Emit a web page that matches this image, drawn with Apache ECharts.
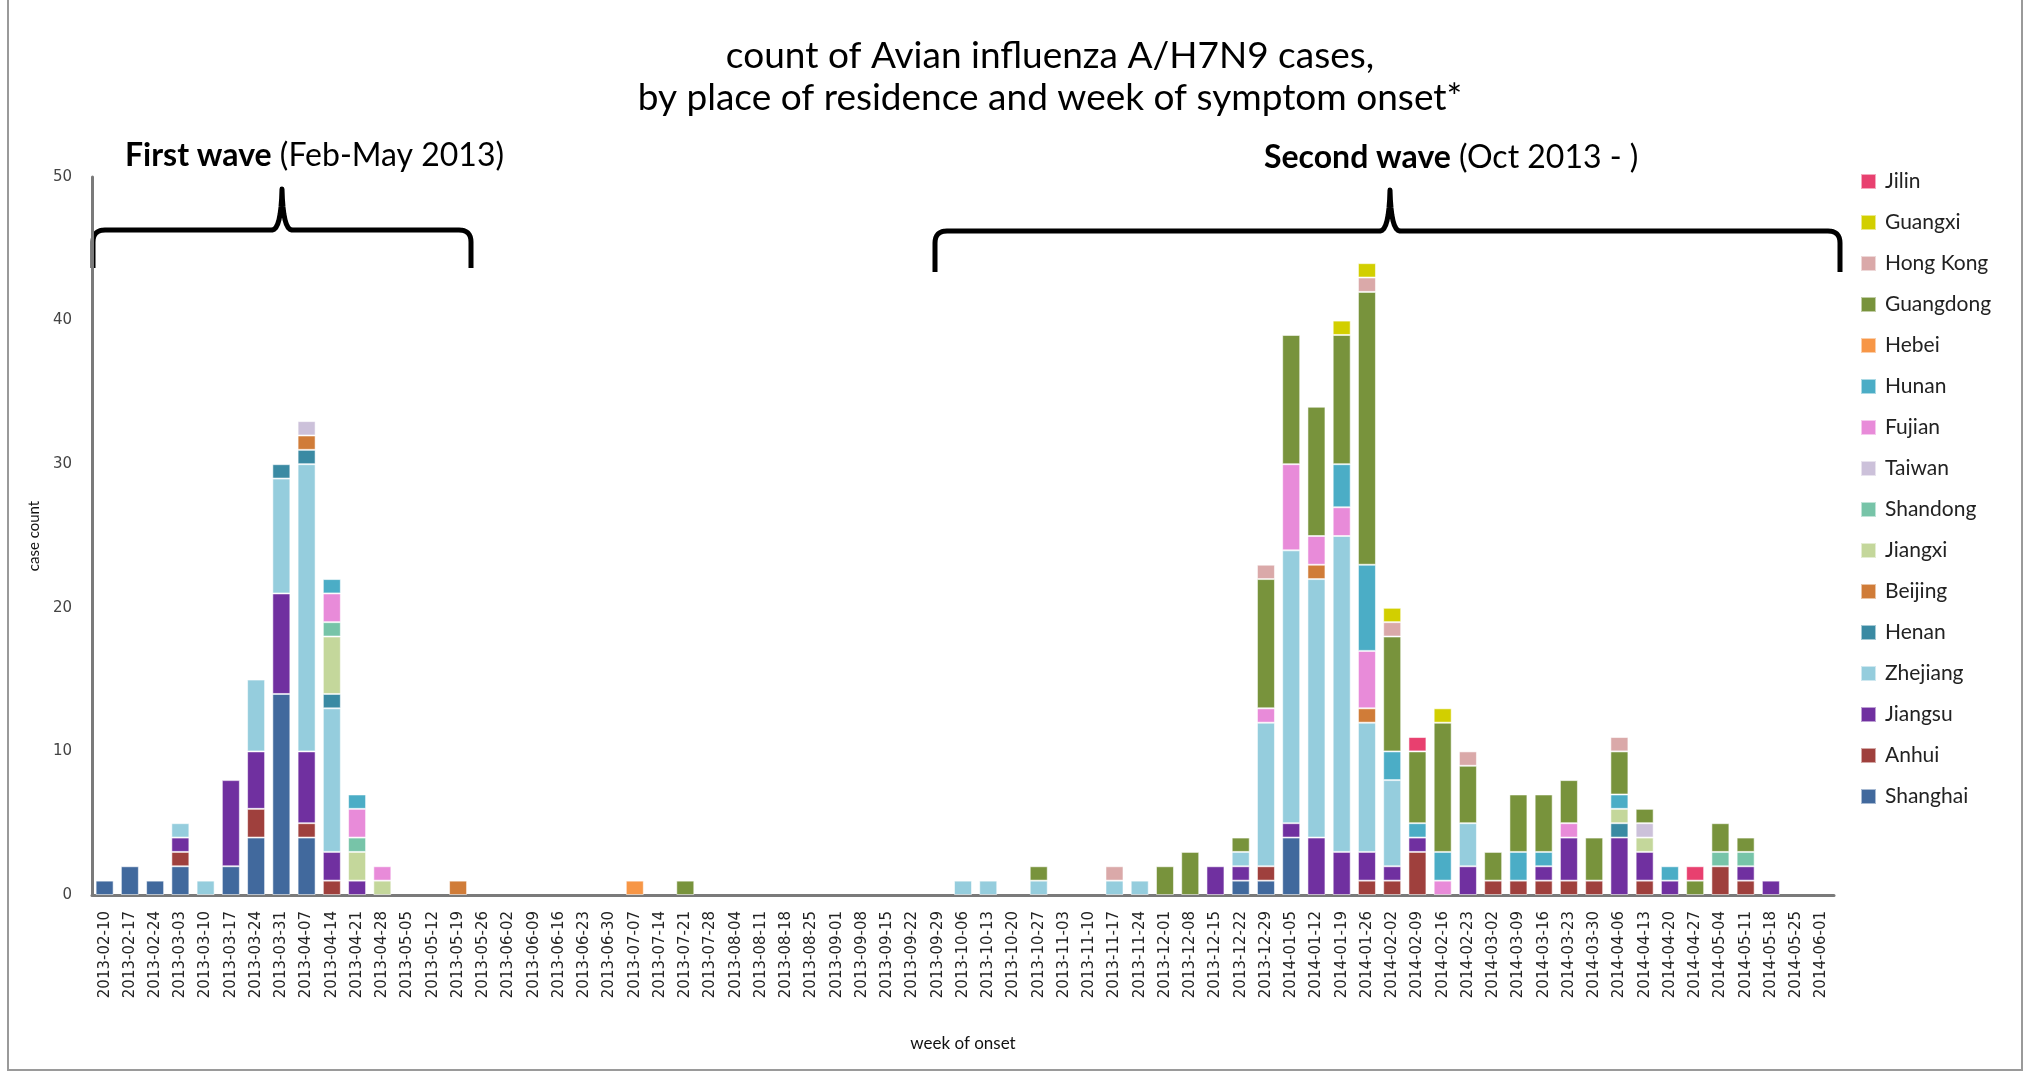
<!DOCTYPE html>
<html>
<head>
<meta charset="utf-8">
<title>Avian influenza A/H7N9 cases</title>
<script src="https://cdn.jsdelivr.net/npm/echarts@6/dist/echarts.min.js"></script>
<style>
  html, body { margin: 0; padding: 0; background: #fff; }
  #main { width: 2028px; height: 1078px; }
</style>
</head>
<body>
<div id="main"></div>
<script>
// week of symptom onset (x axis)
var weeks = [
  '2013-02-10','2013-02-17','2013-02-24','2013-03-03','2013-03-10','2013-03-17','2013-03-24','2013-03-31','2013-04-07','2013-04-14',
  '2013-04-21','2013-04-28','2013-05-05','2013-05-12','2013-05-19','2013-05-26','2013-06-02','2013-06-09','2013-06-16','2013-06-23',
  '2013-06-30','2013-07-07','2013-07-14','2013-07-21','2013-07-28','2013-08-04','2013-08-11','2013-08-18','2013-08-25','2013-09-01',
  '2013-09-08','2013-09-15','2013-09-22','2013-09-29','2013-10-06','2013-10-13','2013-10-20','2013-10-27','2013-11-03','2013-11-10',
  '2013-11-17','2013-11-24','2013-12-01','2013-12-08','2013-12-15','2013-12-22','2013-12-29','2014-01-05','2014-01-12','2014-01-19',
  '2014-01-26','2014-02-02','2014-02-09','2014-02-16','2014-02-23','2014-03-02','2014-03-09','2014-03-16','2014-03-23','2014-03-30',
  '2014-04-06','2014-04-13','2014-04-20','2014-04-27','2014-05-04','2014-05-11','2014-05-18','2014-05-25','2014-06-01'
];

var yTicks = [0, 10, 20, 30, 40, 50];

// case counts per place of residence, one value per week (stack order bottom -> top)
var shanghai = [1,2,1,2,0,2,4,14,4,0, 0,0,0,0,0,0,0,0,0,0, 0,0,0,0,0,0,0,0,0,0, 0,0,0,0,0,0,0,0,0,0, 0,0,0,0,0,1,1,4,0,0, 0,0,0,0,0,0,0,0,0,0, 0,0,0,0,0,0,0,0,0];
var anhui    = [0,0,0,1,0,0,2,0,1,1, 0,0,0,0,0,0,0,0,0,0, 0,0,0,0,0,0,0,0,0,0, 0,0,0,0,0,0,0,0,0,0, 0,0,0,0,0,0,1,0,0,0, 1,1,3,0,0,1,1,1,1,1, 0,1,0,0,2,1,0,0,0];
var jiangsu  = [0,0,0,1,0,6,4,7,5,2, 1,0,0,0,0,0,0,0,0,0, 0,0,0,0,0,0,0,0,0,0, 0,0,0,0,0,0,0,0,0,0, 0,0,0,0,2,1,0,1,4,3, 2,1,1,0,2,0,0,1,3,0, 4,2,1,0,0,1,1,0,0];
var zhejiang = [0,0,0,1,1,0,5,8,20,10, 0,0,0,0,0,0,0,0,0,0, 0,0,0,0,0,0,0,0,0,0, 0,0,0,0,1,1,0,1,0,0, 1,1,0,0,0,1,10,19,18,22, 9,6,0,0,3,0,0,0,0,0, 0,0,0,0,0,0,0,0,0];
var henan    = [0,0,0,0,0,0,0,1,1,1, 0,0,0,0,0,0,0,0,0,0, 0,0,0,0,0,0,0,0,0,0, 0,0,0,0,0,0,0,0,0,0, 0,0,0,0,0,0,0,0,0,0, 0,0,0,0,0,0,0,0,0,0, 1,0,0,0,0,0,0,0,0];
var beijing  = [0,0,0,0,0,0,0,0,1,0, 0,0,0,0,1,0,0,0,0,0, 0,0,0,0,0,0,0,0,0,0, 0,0,0,0,0,0,0,0,0,0, 0,0,0,0,0,0,0,0,1,0, 1,0,0,0,0,0,0,0,0,0, 0,0,0,0,0,0,0,0,0];
var jiangxi  = [0,0,0,0,0,0,0,0,0,4, 2,1,0,0,0,0,0,0,0,0, 0,0,0,0,0,0,0,0,0,0, 0,0,0,0,0,0,0,0,0,0, 0,0,0,0,0,0,0,0,0,0, 0,0,0,0,0,0,0,0,0,0, 1,1,0,0,0,0,0,0,0];
var shandong = [0,0,0,0,0,0,0,0,0,1, 1,0,0,0,0,0,0,0,0,0, 0,0,0,0,0,0,0,0,0,0, 0,0,0,0,0,0,0,0,0,0, 0,0,0,0,0,0,0,0,0,0, 0,0,0,0,0,0,0,0,0,0, 0,0,0,0,1,1,0,0,0];
var taiwan   = [0,0,0,0,0,0,0,0,1,0, 0,0,0,0,0,0,0,0,0,0, 0,0,0,0,0,0,0,0,0,0, 0,0,0,0,0,0,0,0,0,0, 0,0,0,0,0,0,0,0,0,0, 0,0,0,0,0,0,0,0,0,0, 0,1,0,0,0,0,0,0,0];
var fujian   = [0,0,0,0,0,0,0,0,0,2, 2,1,0,0,0,0,0,0,0,0, 0,0,0,0,0,0,0,0,0,0, 0,0,0,0,0,0,0,0,0,0, 0,0,0,0,0,0,1,6,2,2, 4,0,0,1,0,0,0,0,1,0, 0,0,0,0,0,0,0,0,0];
var hunan    = [0,0,0,0,0,0,0,0,0,1, 1,0,0,0,0,0,0,0,0,0, 0,0,0,0,0,0,0,0,0,0, 0,0,0,0,0,0,0,0,0,0, 0,0,0,0,0,0,0,0,0,3, 6,2,1,2,0,0,2,1,0,0, 1,0,1,0,0,0,0,0,0];
var hebei    = [0,0,0,0,0,0,0,0,0,0, 0,0,0,0,0,0,0,0,0,0, 0,1,0,0,0,0,0,0,0,0, 0,0,0,0,0,0,0,0,0,0, 0,0,0,0,0,0,0,0,0,0, 0,0,0,0,0,0,0,0,0,0, 0,0,0,0,0,0,0,0,0];
var guangdong= [0,0,0,0,0,0,0,0,0,0, 0,0,0,0,0,0,0,0,0,0, 0,0,0,1,0,0,0,0,0,0, 0,0,0,0,0,0,0,1,0,0, 0,0,2,3,0,1,9,9,9,9, 19,8,5,9,4,2,4,4,3,3, 3,1,0,1,2,1,0,0,0];
var hongkong = [0,0,0,0,0,0,0,0,0,0, 0,0,0,0,0,0,0,0,0,0, 0,0,0,0,0,0,0,0,0,0, 0,0,0,0,0,0,0,0,0,0, 1,0,0,0,0,0,1,0,0,0, 1,1,0,0,1,0,0,0,0,0, 1,0,0,0,0,0,0,0,0];
var guangxi  = [0,0,0,0,0,0,0,0,0,0, 0,0,0,0,0,0,0,0,0,0, 0,0,0,0,0,0,0,0,0,0, 0,0,0,0,0,0,0,0,0,0, 0,0,0,0,0,0,0,0,0,1, 1,1,0,1,0,0,0,0,0,0, 0,0,0,0,0,0,0,0,0];
var jilin    = [0,0,0,0,0,0,0,0,0,0, 0,0,0,0,0,0,0,0,0,0, 0,0,0,0,0,0,0,0,0,0, 0,0,0,0,0,0,0,0,0,0, 0,0,0,0,0,0,0,0,0,0, 0,0,1,0,0,0,0,0,0,0, 0,0,0,1,0,0,0,0,0];

var places = ['Shanghai','Anhui','Jiangsu','Zhejiang','Henan','Beijing','Jiangxi','Shandong','Taiwan','Fujian','Hunan','Hebei','Guangdong','Hong Kong','Guangxi','Jilin'];
var placeData = [shanghai, anhui, jiangsu, zhejiang, henan, beijing, jiangxi, shandong, taiwan, fujian, hunan, hebei, guangdong, hongkong, guangxi, jilin];
var placeColors = ['#41699d','#9f403d','#7030a0','#95cddd','#3a8aa3','#d07c38','#c4d79b','#77c4a8','#ccc1da','#e88bd9','#4badc6','#f79646','#78933c','#daa9a9','#d2cf00','#e8406f'];

var series = [];
for (var i = 0; i < places.length; i++) {
  series.push({
    name: places[i],
    type: 'bar',
    stack: 'cases',
    barWidth: 18,
    itemStyle: {
      color: placeColors[i],
      borderColor: 'rgba(255,255,255,0.55)',
      borderWidth: 1
    },
    data: placeData[i].map(function (v) { return v === 0 ? '-' : v; })
  });
}

// curly brace drawn as a polyline (quadratic corners sampled)
function quad(pts, p0, c, p1) {
  for (var t = 1; t <= 8; t++) {
    var s = t / 8, u = 1 - s;
    pts.push([u * u * p0[0] + 2 * u * s * c[0] + s * s * p1[0],
              u * u * p0[1] + 2 * u * s * c[1] + s * s * p1[1]]);
  }
}
function bracePoints(x0, x1, xm, yh, yb, yp) {
  var r = 12, pts = [[x0, yb], [x0, yh + r]];
  quad(pts, [x0, yh + r], [x0, yh], [x0 + r, yh]);
  pts.push([xm - 10, yh]);
  quad(pts, [xm - 10, yh], [xm - 1, yh], [xm, yp]);
  quad(pts, [xm, yp], [xm + 1, yh], [xm + 10, yh]);
  pts.push([x1 - r, yh]);
  quad(pts, [x1 - r, yh], [x1, yh], [x1, yh + r]);
  pts.push([x1, yb]);
  return pts;
}

var option = {
  backgroundColor: '#fff',
  animation: false,
  title: {
    text: 'count of Avian influenza A/H7N9 cases,\nby place of residence and week of symptom onset*',
    left: 1045,
    top: 30,
    textAlign: 'center',
    textStyle: {
      fontFamily: 'Lato',
      fontSize: 37,
      fontWeight: 'normal',
      lineHeight: 42,
      color: '#000'
    }
  },
  legend: {
    orient: 'vertical',
    left: 1855,
    top: 166,
    icon: 'rect',
    itemWidth: 15,
    itemHeight: 15,
    itemGap: 20,
    textStyle: { fontFamily: 'Lato', fontSize: 21, lineHeight: 17, color: '#222', padding: [0, 0, 0, 4] },
    data: places.slice().reverse()
  },
  grid: {
    left: 92,
    right: 194,
    top: 177,
    bottom: 183,
    containLabel: false
  },
  xAxis: {
    type: 'category',
    data: weeks,
    name: 'week of onset',
    nameLocation: 'middle',
    nameGap: 140,
    nameTextStyle: { fontFamily: 'Lato', fontSize: 17, color: '#111' },
    axisLine: { lineStyle: { color: '#7a7a7a', width: 3 } },
    axisTick: { show: false },
    axisLabel: {
      interval: 0,
      rotate: 90,
      margin: 16,
      fontFamily: 'DejaVu Sans',
      fontSize: 15,
      color: '#222'
    }
  },
  yAxis: {
    type: 'value',
    min: yTicks[0],
    max: yTicks[yTicks.length - 1],
    interval: 10,
    name: 'case count',
    nameLocation: 'middle',
    nameGap: 50,
    nameTextStyle: { fontFamily: 'Lato', fontSize: 15, color: '#111' },
    axisLine: { show: true, lineStyle: { color: '#7a7a7a', width: 3 } },
    axisTick: { show: false },
    splitLine: { show: false },
    axisLabel: { margin: 20, fontFamily: 'DejaVu Sans', fontSize: 15, color: '#444' }
  },
  graphic: [
    {
      type: 'rect',
      shape: { x: 8, y: -4, width: 2014, height: 1074 },
      style: { fill: 'none', stroke: '#9a9a9a', lineWidth: 2 },
      silent: true
    },
    {
      type: 'polyline',
      shape: { points: bracePoints(93, 471, 282, 230, 268, 189) },
      style: { fill: null, stroke: '#000', lineWidth: 5, lineJoin: 'round' },
      silent: true
    },
    {
      type: 'polyline',
      shape: { points: bracePoints(935, 1840, 1390, 231, 272, 190) },
      style: { fill: null, stroke: '#000', lineWidth: 5, lineJoin: 'round' },
      silent: true
    },
    {
      type: 'text',
      x: 125,
      y: 156,
      style: {
        text: '{b|First wave} (Feb-May 2013)',
        font: '32px Lato',
        fill: '#000',
        verticalAlign: 'middle',
        rich: { b: { fontFamily: 'Lato', fontSize: 32, fontWeight: 'bold', fill: '#000' } }
      },
      silent: true
    },
    {
      type: 'text',
      x: 1264,
      y: 158,
      style: {
        text: '{b|Second wave} (Oct 2013 - )',
        font: '32px Lato',
        fill: '#000',
        verticalAlign: 'middle',
        rich: { b: { fontFamily: 'Lato', fontSize: 32, fontWeight: 'bold', fill: '#000' } }
      },
      silent: true
    }
  ],
  series: series
};

var myChart = echarts.init(document.getElementById('main'));
myChart.setOption(option);
</script>
</body>
</html>
